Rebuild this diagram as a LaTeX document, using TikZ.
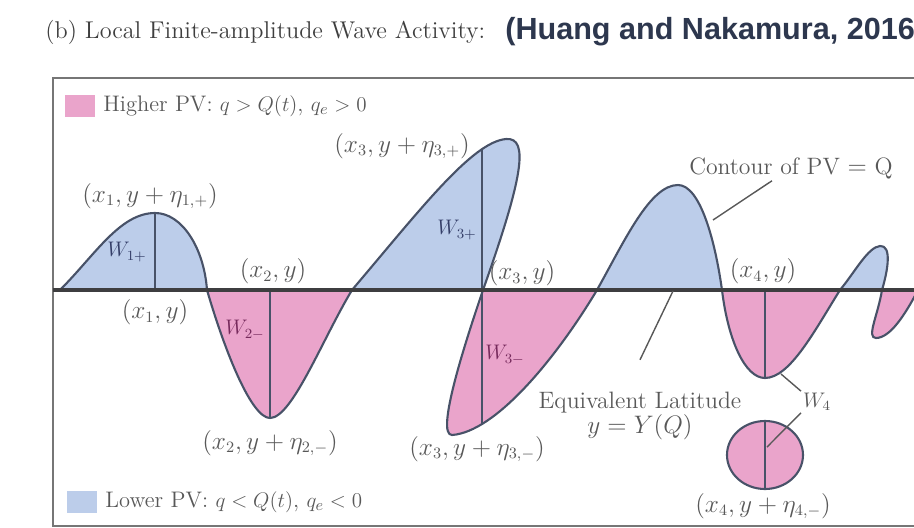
\documentclass[tikz,border=0pt]{standalone}
\usepackage{fontspec}
\newfontfamily\citefont{Liberation Sans}
\usepackage{amsmath}
\usepackage{xcolor}
\usetikzlibrary{calc}

\definecolor{lowpv}{RGB}{188,205,234}
\definecolor{highpv}{RGB}{234,164,203}
\definecolor{contourline}{RGB}{72,82,104}
\definecolor{axisgray}{RGB}{62,62,64}
\definecolor{framegray}{RGB}{118,118,118}
\definecolor{labelgray}{RGB}{88,88,88}
\definecolor{citeblue}{RGB}{45,55,78}
\definecolor{wblue}{RGB}{52,62,104}
\definecolor{wpink}{RGB}{118,42,92}

\begin{document}
\begin{tikzpicture}[x=0.02cm, y=0.02cm,
    pvcontour/.style={draw=contourline, line width=1.2pt, line cap=round, line join=round},
    stem/.style={draw=contourline, line width=0.9pt},
    lbl/.style={text=labelgray, font=\fontsize{13.5}{15}\selectfont, inner sep=1pt},
    wlbl/.style={font=\fontsize{12}{14}\selectfont, inner sep=1pt},
    leader/.style={draw=labelgray, line width=0.8pt},
    legendbox/.style={minimum width=0.6cm, minimum height=0.44cm, inner sep=0pt}]

    % ==========================================
    % PAGE & FRAME
    % ==========================================
    \useasboundingbox (0,0) rectangle (914,-528);
    \clip (0,0) rectangle (914,-528);

    \node[anchor=west, text=labelgray!70!black, font=\fontsize{13.8}{15}\selectfont, inner sep=0pt] (title) at (45,-32) {(b) Local Finite-amplitude Wave Activity:};
    \node[anchor=west, text=citeblue, font=\citefont\bfseries\fontsize{17.4}{19}\selectfont, inner sep=0pt] (cite) at (505,-32) {(Huang and Nakamura, 2016};

    \draw[framegray, line width=1.7pt] (53,-78) rectangle (960,-526);

    % ==========================================
    % LOBES OF THE CONTOUR (crossings on y = -290)
    % ==========================================
    \def\lobeA{(60,-290) .. controls (95,-255) and (120,-213) .. (155,-213) .. controls (182,-213) and (204,-248) .. (207,-290)}
    \def\lobeB{(207,-290) .. controls (226,-355) and (252,-418) .. (270,-418) .. controls (292,-418) and (322,-340) .. (352,-290)}
    \def\lobeC{(352,-290) .. controls (420,-210) and (472,-142) .. (506,-139) .. controls (530,-137) and (522,-180) .. (483,-290)}
    \def\lobeD{(483,-290) .. controls (466,-340) and (435,-435) .. (452,-435) .. controls (495,-432) and (555,-360) .. (597,-290)}
    \def\lobeE{(597,-290) .. controls (625,-240) and (650,-185) .. (678,-185) .. controls (700,-185) and (715,-240) .. (722,-290)}
    \def\lobeF{(722,-290) .. controls (728,-340) and (745,-378) .. (765,-378) .. controls (790,-378) and (815,-330) .. (840,-290)}
    \def\lobeG{(840,-290) .. controls (855,-272) and (868,-247) .. (880,-246) .. controls (892,-245) and (888,-270) .. (882,-290)}
    \def\lobeH{(882,-290) .. controls (878,-315) and (866,-338) .. (876,-338) .. controls (890,-338) and (905,-315) .. (918,-290)}

    \coordinate (P1) at (155,-213);
    \coordinate (M2) at (270,-418);
    \coordinate (M4) at (765,-378);
    \coordinate (O4) at (765,-455);

    % lower PV (blue) above, higher PV (pink) below
    \fill[lowpv] \lobeA -- cycle;
    \fill[lowpv] \lobeC -- cycle;
    \fill[lowpv] \lobeE -- cycle;
    \fill[lowpv] \lobeG -- cycle;
    \fill[highpv] \lobeB -- cycle;
    \fill[highpv] \lobeD -- cycle;
    \fill[highpv] \lobeF -- cycle;
    \fill[highpv] \lobeH -- cycle;
    \fill[highpv] (O4) ellipse [x radius=38, y radius=34];

    % ==========================================
    % STEMS AT x1 ... x4
    % ==========================================
    \draw[stem] (155,-290) -- (P1);
    \draw[stem] (270,-290) -- (M2);
    \begin{scope}
        \clip \lobeC -- cycle;
        \draw[stem] (482,-290) -- (482,-100);
    \end{scope}
    \begin{scope}
        \clip \lobeD -- cycle;
        \draw[stem] (482,-290) -- (482,-500);
    \end{scope}
    \draw[stem] (765,-290) -- (M4);
    \draw[stem] ($(O4)+(0,34)$) -- ($(O4)+(0,-34)$);

    % contour of PV = Q and the axis
    \draw[pvcontour] \lobeA;
    \draw[pvcontour] \lobeB;
    \draw[pvcontour] \lobeC;
    \draw[pvcontour] \lobeD;
    \draw[pvcontour] \lobeE;
    \draw[pvcontour] \lobeF;
    \draw[pvcontour] \lobeG;
    \draw[pvcontour] \lobeH;
    \draw[pvcontour] (O4) ellipse [x radius=38, y radius=34];
    \draw[axisgray, line width=2.3pt] (53,-290) -- (920,-290);

    % ==========================================
    % LABELS
    % ==========================================
    \node[lbl] (onePlus)    at (150,-196) {$(x_1, y + \eta_{1,+})$};
    \node[lbl] (one)        at (155,-312) {$(x_1, y)$};
    \node[lbl] (two)        at (273,-271) {$(x_2, y)$};
    \node[lbl] (twoMinus)   at (270,-443) {$(x_2, y + \eta_{2,-})$};
    \node[lbl] (threePlus)  at (402,-146) {$(x_3, y + \eta_{3,+})$};
    \node[lbl] (three)      at (522,-273) {$(x_3, y)$};
    \node[lbl] (threeMinus) at (477,-449) {$(x_3, y + \eta_{3,-})$};
    \node[lbl] (four)       at (763,-271) {$(x_4, y)$};
    \node[lbl] (fourMinus)  at (763,-506) {$(x_4, y + \eta_{4,-})$};

    \node[wlbl, text=wblue] (wOnePlus)    at (127,-252) {$W_{1+}$};
    \node[wlbl, text=wpink] (wTwoMinus)   at (245,-330) {$W_{2-}$};
    \node[wlbl, text=wblue] (wThreePlus)  at (457,-230) {$W_{3+}$};
    \node[wlbl, text=wpink] (wThreeMinus) at (505,-355) {$W_{3-}$};
    \node[wlbl, text=labelgray] (wFour) at (817,-402) {$W_4$};

    \coordinate (lobeFpt) at (781,-374);
    \coordinate (circpt)  at (767,-447);
    \draw[leader] (wFour.north west) -- (lobeFpt);
    \draw[leader] (wFour.south west) to[out=225, in=45] (circpt);

    \node[lbl] (contourLbl) at (791,-168) {Contour of PV $=$ Q};
    \coordinate (contourpt) at (713,-220);
    \draw[leader] ($(contourLbl.south)+(-19,0)$) -- (contourpt);

    \node[lbl, align=center, font=\fontsize{13.5}{11.5}\selectfont] (eqLat) at (640,-416) {Equivalent Latitude\\$y = Y(Q)$};
    \coordinate (eqpt) at (673,-291);
    \draw[leader] ($(eqLat.north)+(0,30)$) -- (eqpt);

    % ==========================================
    % LEGEND
    % ==========================================
    \node[legendbox, fill=highpv] (highBox) at (80,-106) {};
    \node[lbl, anchor=west, font=\fontsize{12.8}{14}\selectfont] (highTxt) at ($(highBox.east)+(6,0)$) {Higher PV: $q > Q(t)$, $q_e > 0$};
    \node[legendbox, fill=lowpv] (lowBox) at (82,-502) {};
    \node[lbl, anchor=west, font=\fontsize{12.8}{14}\selectfont] (lowTxt) at ($(lowBox.east)+(6,0)$) {Lower PV: $q < Q(t)$, $q_e < 0$};

\end{tikzpicture}
\end{document}
